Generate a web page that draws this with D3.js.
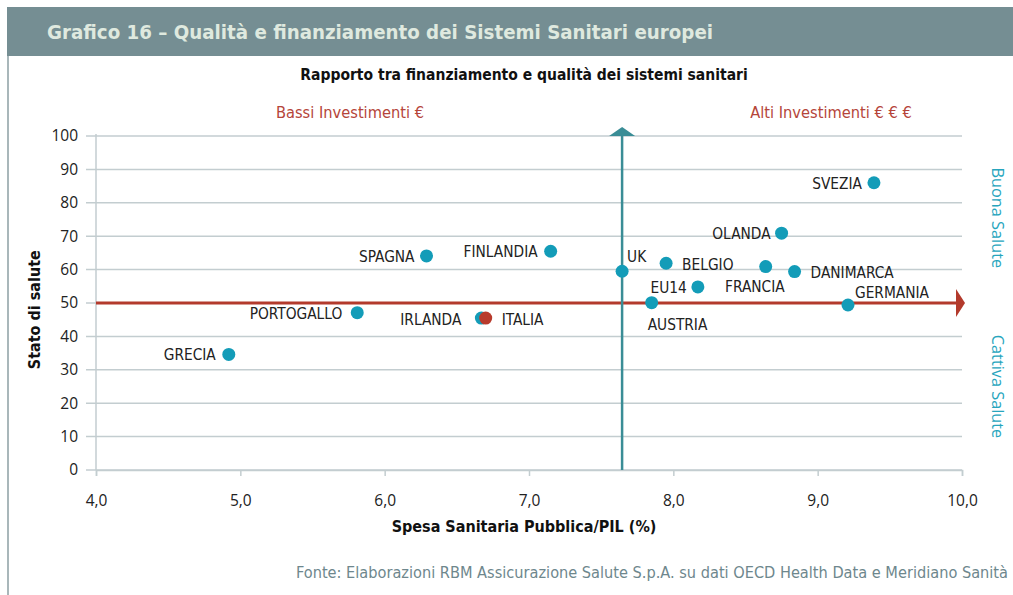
<!DOCTYPE html>
<html>
<head>
<meta charset="utf-8">
<script src="https://cdn.jsdelivr.net/npm/d3@7"></script>
<style>
  body { margin: 0; background: #fff; }
  svg { display: block; }
  .cond { font-family: "Liberation Sans Narrow", "DejaVu Sans Condensed", "DejaVu Sans", sans-serif; font-stretch: condensed; }
  .tick text { font-family: "Open Sans", "Liberation Sans", sans-serif; font-size: 15.5px; fill: #222; }
</style>
</head>
<body>
<div id="chart"></div>
<script>
// paesi, spesa pubblica/PIL (%), stato di salute
var countries = ["GRECIA", "PORTOGALLO", "SPAGNA", "FINLANDIA", "IRLANDA", "ITALIA", "UK", "AUSTRIA", "EU14", "BELGIO", "FRANCIA", "DANIMARCA", "OLANDA", "SVEZIA", "GERMANIA"];
var spesa = [4.92, 5.81, 6.29, 7.15, 6.67, 6.70, 7.645, 7.85, 8.17, 7.95, 8.64, 8.84, 8.75, 9.39, 9.21];
var salute = [34.6, 47.1, 64.1, 65.5, 45.5, 45.5, 59.5, 50.1, 54.8, 61.9, 60.9, 59.4, 70.9, 86.0, 49.4];

var xTicks = [4, 5, 6, 7, 8, 9, 10];
var yTicks = [0, 10, 20, 30, 40, 50, 60, 70, 80, 90, 100];
var xSplit = 7.645; // linea verticale
var ySplit = 50;    // linea orizzontale

// dove mettere le etichette rispetto al punto: [dx, dy, anchor]
var labelPlace = {
    "GRECIA": [-13, 6, "end"],
    "PORTOGALLO": [-15, 6, "end"],
    "SPAGNA": [-12, 6, "end"],
    "FINLANDIA": [-13, 6, "end"],
    "IRLANDA": [-20, 7, "end"],
    "ITALIA": [16, 7, "start"],
    "UK": [5, -9, "start"],
    "AUSTRIA": [-4, 27, "start"],
    "EU14": [-11, 6, "end"],
    "BELGIO": [16, 7, "start"],
    "FRANCIA": [19, 25, "end"],
    "DANIMARCA": [16, 6, "start"],
    "OLANDA": [-11, 6, "end"],
    "SVEZIA": [-12, 6, "end"],
    "GERMANIA": [7, -7, "start"]
};

var width = 1013, height = 595;
var margin = { top: 136, right: 51, bottom: 125, left: 96 };

var svg = d3.select("#chart").append("svg")
    .attr("width", width)
    .attr("height", height);

// cornice e intestazione
svg.append("rect")
    .attr("x", 7).attr("y", 7)
    .attr("width", width - 7).attr("height", 49)
    .attr("fill", "#758e93");
svg.append("line")
    .attr("x1", 8).attr("x2", 8)
    .attr("y1", 56).attr("y2", height)
    .attr("stroke", "#a9b7ba")
    .attr("stroke-width", 2);
svg.append("text")
    .attr("class", "cond")
    .attr("x", 47).attr("y", 39)
    .attr("fill", "#dfe9df")
    .style("font-size", "20.3px")
    .style("font-weight", "bold")
    .text("Grafico 16 – Qualità e finanziamento dei Sistemi Sanitari europei");

svg.append("text")
    .attr("class", "cond")
    .attr("x", 524).attr("y", 80)
    .attr("text-anchor", "middle")
    .attr("fill", "#111")
    .style("font-size", "15.5px")
    .style("font-weight", "bold")
    .text("Rapporto tra finanziamento e qualità dei sistemi sanitari");

var x = d3.scaleLinear().domain([4, 10]).range([margin.left, width - margin.right]);
var y = d3.scaleLinear().domain([0, 100]).range([height - margin.bottom, margin.top]);

// griglia orizzontale
svg.append("g")
    .selectAll("line")
    .data(yTicks)
    .enter()
    .append("line")
    .attr("x1", margin.left - 10)
    .attr("x2", x(10))
    .attr("y1", function (d) { return y(d); })
    .attr("y2", function (d) { return y(d); })
    .attr("stroke", "#c3cdd0")
    .attr("stroke-width", 1.5);

// asse y
var yAxis = svg.append("g")
    .attr("transform", "translate(" + (margin.left - 10) + ",0)")
    .call(d3.axisLeft(y).tickValues(yTicks).tickSize(0).tickPadding(8));
yAxis.select(".domain").remove();
svg.append("line")
    .attr("x1", margin.left).attr("x2", margin.left)
    .attr("y1", y(100) - 2).attr("y2", y(0))
    .attr("stroke", "#c3cdd0")
    .attr("stroke-width", 1.5);

// asse x
var xAxis = svg.append("g")
    .attr("transform", "translate(0," + y(0) + ")")
    .call(d3.axisBottom(x).tickValues(xTicks).tickSize(6).tickPadding(19)
        .tickFormat(function (d) { return d3.format(".1f")(d).replace(".", ","); }));
xAxis.select(".domain").attr("stroke", "#c3cdd0").attr("stroke-width", 1.5);
xAxis.selectAll(".tick line").attr("stroke", "#c3cdd0").attr("stroke-width", 1.5);

// titoli assi
svg.append("text")
    .attr("class", "cond")
    .attr("x", 524).attr("y", 532)
    .attr("text-anchor", "middle")
    .attr("fill", "#111")
    .style("font-size", "16px")
    .style("font-weight", "bold")
    .text("Spesa Sanitaria Pubblica/PIL (%)");
svg.append("text")
    .attr("class", "cond")
    .attr("transform", "translate(40," + y(48) + ") rotate(-90)")
    .attr("text-anchor", "middle")
    .attr("fill", "#111")
    .style("font-size", "16px")
    .style("font-weight", "bold")
    .text("Stato di salute");

// linee di separazione
svg.append("line")
    .attr("x1", x(4)).attr("x2", x(10) - 6)
    .attr("y1", y(ySplit)).attr("y2", y(ySplit))
    .attr("stroke", "#b33a2c")
    .attr("stroke-width", 3);
svg.append("path")
    .attr("d", "M" + (x(10) - 6) + "," + (y(ySplit) - 14) + "L" + (x(10) + 3) + "," + y(ySplit) + "L" + (x(10) - 6) + "," + (y(ySplit) + 14) + "Z")
    .attr("fill", "#b33a2c");
svg.append("line")
    .attr("x1", x(xSplit)).attr("x2", x(xSplit))
    .attr("y1", y(0)).attr("y2", y(100))
    .attr("stroke", "#3a8d96")
    .attr("stroke-width", 2.5);
svg.append("path")
    .attr("d", "M" + (x(xSplit) - 13) + "," + y(100) + "L" + x(xSplit) + "," + (y(100) - 9) + "L" + (x(xSplit) + 13) + "," + y(100) + "Z")
    .attr("fill", "#3a8d96");

// etichette quadranti
svg.append("text")
    .attr("class", "cond")
    .attr("x", 350).attr("y", 118)
    .attr("text-anchor", "middle")
    .attr("fill", "#b5453a")
    .style("font-size", "16.3px")
    .text("Bassi Investimenti €");
svg.append("text")
    .attr("class", "cond")
    .attr("x", 831).attr("y", 118)
    .attr("text-anchor", "middle")
    .attr("fill", "#b5453a")
    .style("font-size", "16.3px")
    .text("Alti Investimenti € € €");
svg.append("text")
    .attr("transform", "translate(992," + y(75.5) + ") rotate(90)")
    .attr("text-anchor", "middle")
    .attr("fill", "#27a5bd")
    .style("font-family", "Open Sans, sans-serif")
    .style("font-size", "16.3px")
    .text("Buona Salute");
svg.append("text")
    .attr("transform", "translate(992," + y(25) + ") rotate(90)")
    .attr("text-anchor", "middle")
    .attr("fill", "#27a5bd")
    .style("font-family", "Open Sans, sans-serif")
    .style("font-size", "16.3px")
    .text("Cattiva Salute");

// punti
svg.selectAll("circle.pt")
    .data(countries)
    .enter()
    .append("circle")
    .attr("class", "pt")
    .attr("cx", function (d, i) { return x(spesa[i]); })
    .attr("cy", function (d, i) { return y(salute[i]); })
    .attr("r", 6.5)
    .attr("fill", function (d) { return d == "ITALIA" ? "#b83a2c" : "#139cb8"; });

// etichette paesi
svg.selectAll("text.lbl")
    .data(countries)
    .enter()
    .append("text")
    .attr("class", "lbl cond")
    .attr("x", function (d, i) { return x(spesa[i]) + labelPlace[d][0]; })
    .attr("y", function (d, i) { return y(salute[i]) + labelPlace[d][1]; })
    .attr("text-anchor", function (d) { return labelPlace[d][2]; })
    .attr("fill", "#222")
    .style("font-size", "15.3px")
    .text(function (d) { return d; });

// fonte
svg.append("text")
    .attr("class", "cond")
    .attr("x", 1008).attr("y", 578)
    .attr("text-anchor", "end")
    .attr("fill", "#6e878d")
    .style("font-size", "16.2px")
    .text("Fonte: Elaborazioni RBM Assicurazione Salute S.p.A. su dati OECD Health Data e Meridiano Sanità");
</script>
</body>
</html>
